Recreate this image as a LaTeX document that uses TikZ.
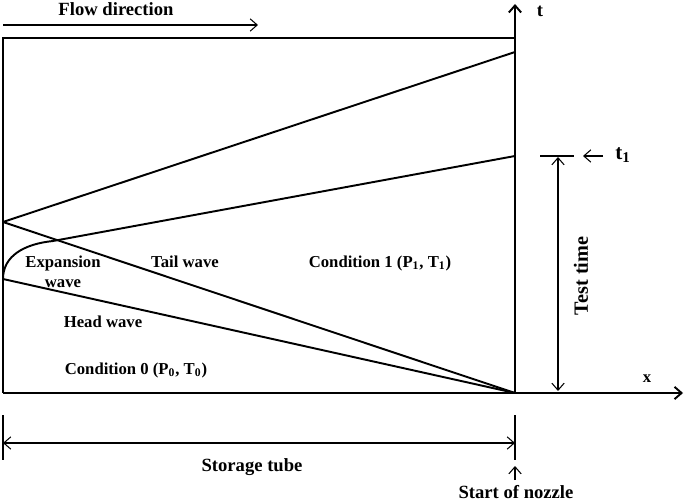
\documentclass[tikz,border=0pt]{standalone}
\usepackage{fontspec}
\setmainfont{Liberation Serif}
\usetikzlibrary{arrows.meta}

\tikzset{
  wave/.style={line width=1.1pt},
  thinline/.style={line width=0.6pt},
  lbl/.style={font=\bfseries\fontsize{9.5}{11.5}\selectfont, inner sep=0pt, align=center},
  biglbl/.style={lbl, font=\bfseries\fontsize{10.6}{12}\selectfont},
  >={Straight Barb[length=4pt,width=7pt]}
}
\newcommand{\lowidx}[1]{\raisebox{-0.35ex}{\fontsize{8.5}{9}\selectfont #1}}

\begin{document}
\begin{tikzpicture}[x=0.02cm,y=-0.02cm]
\useasboundingbox (0,0) rectangle (685,502);
            % Points
            \coordinate (origin) at (3,393);
            \coordinate (nozzle) at (515,393);
            \coordinate (top_left) at (3,38);
            \coordinate (top_right) at (515,38);
            \coordinate (t_end) at (515,4);
            \coordinate (x_end) at (683,393);
            \coordinate (diaphragm) at (3,222);
            \coordinate (head_start) at (3,279);
            \coordinate (fan_end) at (53,241);
            \coordinate (upper_end) at (515,52);
            \coordinate (t1_point) at (515,156);
            \coordinate (flow_start) at (3,25);
            \coordinate (flow_end) at (258,25);
            \coordinate (tick_left) at (540,156);
            \coordinate (tick_right) at (574,156);
            \coordinate (t1_arrow_start) at (603,156);
            \coordinate (t1_arrow_end) at (583,156);
            \coordinate (test_top) at (558,157);
            \coordinate (test_bottom) at (558,391);
            \coordinate (tube_left_top) at (3,415);
            \coordinate (tube_left_bottom) at (3,460);
            \coordinate (tube_right_top) at (515,415);
            \coordinate (tube_right_bottom) at (515,460);
            \coordinate (tube_left) at (3,443);
            \coordinate (tube_right) at (515,443);
            \coordinate (nozzle_arrow_start) at (515,480);
            \coordinate (nozzle_arrow_end) at (515,466);

            % Labels
            \node[biglbl] (flow_label) at (116,9) {Flow direction};
            \node[biglbl] (t_label) at (540,11) {t};
            \node[lbl] (x_label) at (647,379) {x};
            \node[biglbl, anchor=west, font=\bfseries\fontsize{12}{12}\selectfont] (t1_label) at (615,155) {t\lowidx{1}};
            \node[lbl] (expansion_label) at (63,272) {Expansion\\wave};
            \node[lbl] (tail_label) at (185,262) {Tail wave};
            \node[lbl] (cond1_label) at (380,263) {Condition 1 (P\textsubscript{1}, T\textsubscript{1})};
            \node[lbl] (head_label) at (103,322) {Head wave};
            \node[lbl] (cond0_label) at (136,370) {Condition 0 (P\textsubscript{0}, T\textsubscript{0})};
            \node[biglbl, rotate=90, font=\bfseries\fontsize{11.5}{12}\selectfont] (test_label) at (581,276) {Test time};
            \node[biglbl] (storage_label) at (252,467) {Storage tube};
            \node[biglbl] (nozzle_label) at (516,492) {Start of nozzle};

            % Axes and frame
            \draw[wave] (top_right) -- (top_left) -- (origin);
            \draw[wave, ->] (origin) -- (x_end);
            \draw[wave, ->] (nozzle) -- (t_end);

            % Waves
            \draw[wave] (diaphragm) -- (upper_end);
            \draw[wave] (diaphragm) -- (nozzle);
            \draw[wave] (head_start) -- (nozzle);
            \draw[wave] (head_start) .. controls (3,256) and (24,244) .. (fan_end) -- (t1_point);

            % Annotations
            \draw[thinline, ->] (flow_start) -- (flow_end);
            \draw[thinline] (tick_left) -- (tick_right);
            \draw[thinline, ->] (t1_arrow_start) -- (t1_arrow_end);
            \draw[thinline, <->] (test_top) -- (test_bottom);
            \draw[thinline] (tube_left_top) -- (tube_left_bottom);
            \draw[thinline] (tube_right_top) -- (tube_right_bottom);
            \draw[thinline, <->] (tube_left) -- (tube_right);
            \draw[thinline, ->] (nozzle_arrow_start) -- (nozzle_arrow_end);
        \end{tikzpicture}
\end{document}
